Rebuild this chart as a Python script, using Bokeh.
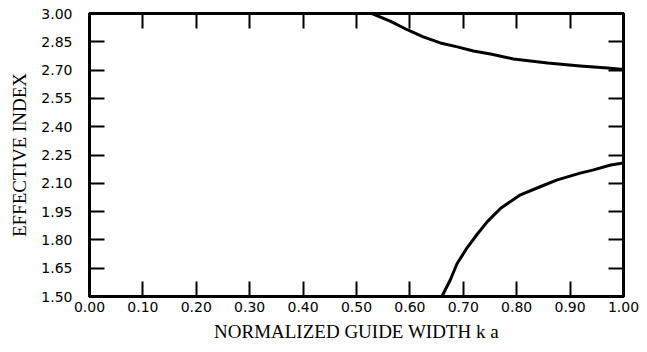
from bokeh.plotting import figure
from bokeh.models import LinearAxis, FixedTicker, Range1d, CustomLabelingPolicy
from bokeh.embed import file_html
from bokeh.resources import INLINE

# Data
upper_x = [0.529, 0.564, 0.595, 0.625, 0.657, 0.689, 0.719, 0.751, 0.794, 0.858, 0.919, 0.970, 1.000]
upper_y = [3.000, 2.958, 2.914, 2.876, 2.844, 2.823, 2.801, 2.785, 2.759, 2.738, 2.722, 2.711, 2.703]

lower_x = [0.660, 0.676, 0.688, 0.707, 0.726, 0.745, 0.770, 0.807, 0.845, 0.876, 0.919, 0.944, 0.976, 1.000]
lower_y = [1.500, 1.590, 1.672, 1.758, 1.830, 1.897, 1.968, 2.039, 2.083, 2.118, 2.154, 2.171, 2.197, 2.208]

x_ticks = [0.0, 0.1, 0.2, 0.3, 0.4, 0.5, 0.6, 0.7, 0.8, 0.9, 1.0]
y_ticks = [1.50, 1.65, 1.80, 1.95, 2.10, 2.25, 2.40, 2.55, 2.70, 2.85, 3.00]
x_labels = {t: f"{t:.2f}" for t in x_ticks}
y_labels = {t: f"{t:.2f}" for t in y_ticks}

x_title = "NORMALIZED GUIDE WIDTH k a"
y_title = "EFFECTIVE INDEX"

p = figure(width=647, height=352, output_backend="svg", toolbar_location=None,
           x_range=Range1d(0, 1), y_range=Range1d(1.5, 3.0),
           min_border_left=89, min_border_right=24, min_border_top=13, min_border_bottom=56,
           x_axis_location=None, y_axis_location=None)
p.grid.visible = False
p.background_fill_color = "white"
p.border_fill_color = "white"
p.outline_line_color = "black"
p.outline_line_width = 3

tick_font = "DejaVu Sans"
title_font = "Liberation Serif"

hide_all = CustomLabelingPolicy(code="""
    const ids = [...indices]
    for (const i of ids) indices.unset(i)
    return indices
""")

def style(ax, font_size="14px"):
    ax.axis_line_color = "black"
    ax.axis_line_width = 3
    ax.major_tick_line_color = "black"
    ax.major_tick_line_width = 2
    ax.major_tick_in = 15
    ax.major_tick_out = 0
    ax.minor_tick_line_color = None
    ax.major_label_text_color = "black"
    ax.major_label_text_font = tick_font
    ax.major_label_text_font_size = font_size
    ax.axis_label_text_font = title_font
    ax.axis_label_text_font_style = "normal"
    ax.axis_label_text_font_size = "19px"
    ax.axis_label_text_color = "black"

xb = LinearAxis(ticker=FixedTicker(ticks=x_ticks), major_label_overrides=x_labels,
                axis_label=x_title)
style(xb)
xb.major_label_standoff = 5
xb.axis_label_standoff = 6
p.add_layout(xb, "below")

yl = LinearAxis(ticker=FixedTicker(ticks=y_ticks), major_label_overrides=y_labels,
                axis_label=y_title)
style(yl)
yl.major_label_standoff = 17
yl.axis_label_standoff = 8
p.add_layout(yl, "left")

xt = LinearAxis(ticker=FixedTicker(ticks=x_ticks), major_label_policy=hide_all)
style(xt, "1px")
xt.major_label_standoff = 0
p.add_layout(xt, "above")

yr = LinearAxis(ticker=FixedTicker(ticks=y_ticks), major_label_policy=hide_all)
style(yr, "1px")
yr.major_label_standoff = 0
p.add_layout(yr, "right")

p.line(upper_x, upper_y, line_color="black", line_width=3, line_join="round")
p.line(lower_x, lower_y, line_color="black", line_width=3, line_join="round")

open("out.html", "w").write(file_html(p, INLINE))
